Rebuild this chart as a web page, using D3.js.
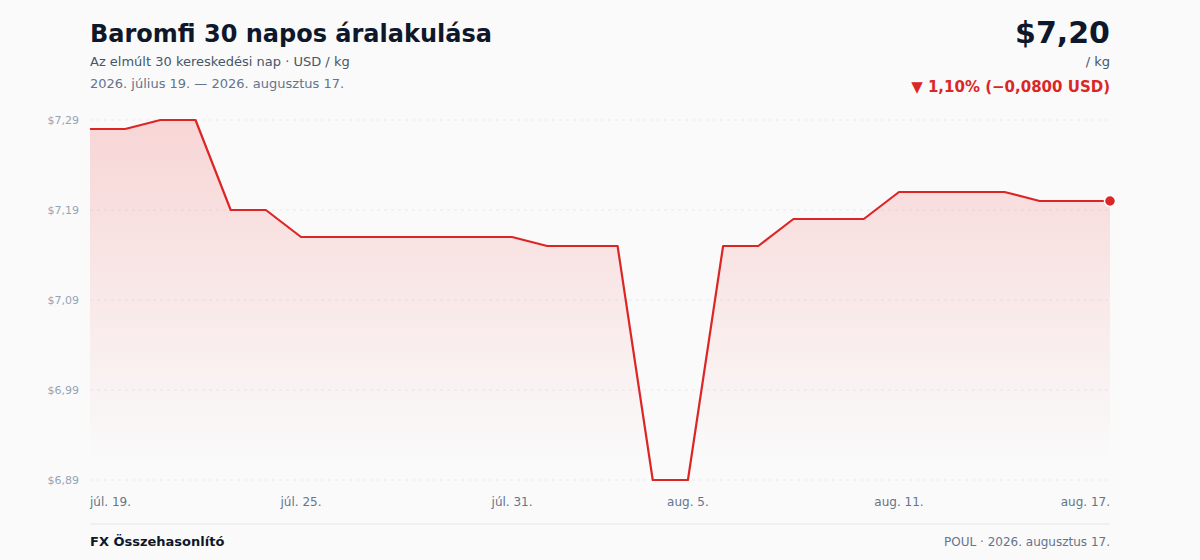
<!DOCTYPE html>
<html>
<head>
<meta charset="utf-8">
<script src="https://cdn.jsdelivr.net/npm/d3@7"></script>
<style>
  html, body { margin: 0; padding: 0; background: #fafafa; }
  svg { display: block; font-family: "DejaVu Sans", sans-serif; }
</style>
</head>
<body>
<div id="chart"></div>
<script>
// Daily prices, USD / kg, 2026-07-19 .. 2026-08-17
var startDate = new Date(2026, 6, 19);
var prices = [7.28, 7.28, 7.29, 7.29, 7.19, 7.19, 7.16, 7.16, 7.16, 7.16,
              7.16, 7.16, 7.16, 7.15, 7.15, 7.15, 6.89, 6.89, 7.15, 7.15,
              7.18, 7.18, 7.18, 7.21, 7.21, 7.21, 7.21, 7.20, 7.20, 7.20];
var yTicks = [6.89, 6.99, 7.09, 7.19, 7.29];
var xTickIdx = [0, 6, 12, 17, 23, 29];
var monthNames = ["jan.", "febr.", "márc.", "ápr.", "máj.", "jún.", "júl.", "aug.", "szept.", "okt.", "nov.", "dec."];

var W = 1200, H = 560;
var m = {left: 90, right: 1110, top: 120, bottom: 480};

var data = prices.map(function(p, i) {
    return {date: d3.timeDay.offset(startDate, i), value: p, i: i};
});

var comma = function(v, n) { return d3.format("." + n + "f")(v).replace(".", ","); };

var svg = d3.select("#chart").append("svg").attr("width", W).attr("height", H);

var x = d3.scaleTime().domain(d3.extent(data, function(d) { return d.date; })).range([m.left, m.right]);
var y = d3.scaleLinear().domain([6.89, 7.29]).range([m.bottom, m.top]);

// gradient for the area
var defs = svg.append("defs");
var grad = defs.append("linearGradient").attr("id", "fill").attr("x1", 0).attr("y1", 0).attr("x2", 0).attr("y2", 1);
grad.append("stop").attr("offset", "0%").attr("stop-color", "#ef4444").attr("stop-opacity", 0.2);
grad.append("stop").attr("offset", "95%").attr("stop-color", "#ef4444").attr("stop-opacity", 0);

// header
svg.append("text").attr("x", 90).attr("y", 42).attr("font-size", 24).attr("font-weight", "bold")
    .attr("fill", "#0f172a").text("Baromfi 30 napos áralakulása");
svg.append("text").attr("x", 90).attr("y", 66).attr("font-size", 13).attr("fill", "#475569")
    .text("Az elmúlt 30 kereskedési nap · USD / kg");
svg.append("text").attr("x", 90).attr("y", 88).attr("font-size", 13).attr("fill", "#64748b")
    .text("2026. július 19. — 2026. augusztus 17.");

var last = prices[prices.length - 1], first = prices[0];
var diff = last - first, pct = diff / first * 100;
svg.append("text").attr("x", 1110).attr("y", 43).attr("text-anchor", "end").attr("font-size", 30)
    .attr("font-weight", "bold").attr("fill", "#0f172a").text("$" + comma(last, 2));
svg.append("text").attr("x", 1110).attr("y", 66).attr("text-anchor", "end").attr("font-size", 13)
    .attr("fill", "#475569").text("/ kg");
svg.append("text").attr("x", 1110).attr("y", 92).attr("text-anchor", "end").attr("font-size", 15)
    .attr("font-weight", "bold").attr("fill", "#dc2626")
    .text((diff < 0 ? "▼ " : "▲ ") + comma(Math.abs(pct), 2) + "% (" + (diff < 0 ? "−" : "+") + comma(Math.abs(diff), 4) + " USD)");

// grid + y labels
var yAxis = svg.append("g").attr("class", "y-axis");
yAxis.selectAll("line").data(yTicks).enter().append("line")
    .attr("x1", m.left).attr("x2", m.right)
    .attr("y1", function(d) { return y(d); }).attr("y2", function(d) { return y(d); })
    .attr("stroke", "#e8eaee").attr("stroke-dasharray", "3,4");
yAxis.selectAll("text").data(yTicks).enter().append("text")
    .attr("x", 79).attr("y", function(d) { return y(d) + 4; }).attr("text-anchor", "end")
    .attr("font-size", 11).attr("fill", "#94a3b8")
    .text(function(d) { return "$" + comma(d, 2); });

// area + line
var area = d3.area().x(function(d) { return x(d.date); }).y0(m.bottom).y1(function(d) { return y(d.value); });
var line = d3.line().x(function(d) { return x(d.date); }).y(function(d) { return y(d.value); });

svg.append("path").datum(data).attr("d", area).attr("fill", "url(#fill)");
svg.append("path").datum(data).attr("d", line).attr("fill", "none")
    .attr("stroke", "#dc2626").attr("stroke-width", 2.2).attr("stroke-linejoin", "round");

var end = data[data.length - 1];
svg.append("circle").attr("cx", x(end.date)).attr("cy", y(end.value)).attr("r", 5.5)
    .attr("fill", "#dc2626").attr("stroke", "#fff").attr("stroke-width", 1.5);

// x labels
svg.append("g").selectAll("text").data(xTickIdx.map(function(i) { return data[i]; })).enter().append("text")
    .attr("x", function(d) { return x(d.date); }).attr("y", 506)
    .attr("text-anchor", function(d, k) { return k === 0 ? "start" : (k === xTickIdx.length - 1 ? "end" : "middle"); })
    .attr("font-size", 12).attr("fill", "#64748b")
    .text(function(d) { return monthNames[d.date.getMonth()] + " " + d.date.getDate() + "."; });

// footer
svg.append("line").attr("x1", m.left).attr("x2", m.right).attr("y1", 524).attr("y2", 524)
    .attr("stroke", "#e5e7eb").attr("stroke-width", 1);
svg.append("text").attr("x", 90).attr("y", 546).attr("font-size", 13).attr("font-weight", "bold")
    .attr("fill", "#0f172a").text("FX Összehasonlító");
svg.append("text").attr("x", 1110).attr("y", 546).attr("text-anchor", "end").attr("font-size", 12)
    .attr("fill", "#64748b").text("POUL · 2026. augusztus 17.");
</script>
</body>
</html>
